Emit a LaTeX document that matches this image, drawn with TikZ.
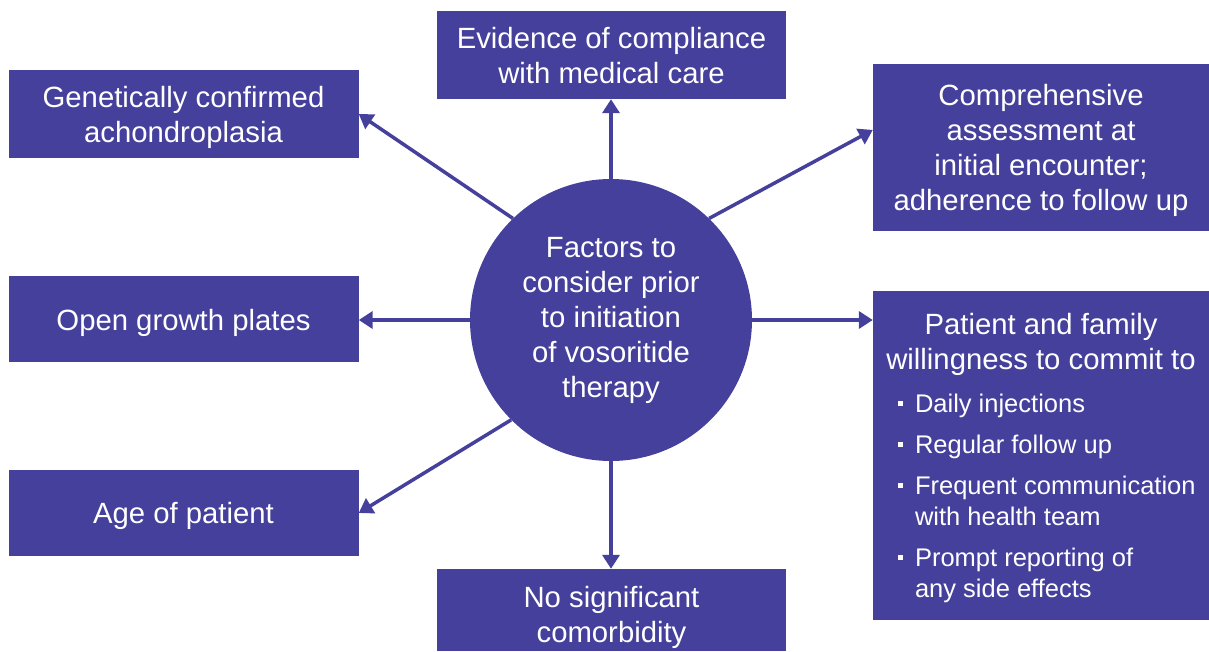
\documentclass[tikz,border=0pt]{standalone}
\usepackage{fontspec}
\setmainfont{Liberation Sans}
\usetikzlibrary{arrows.meta,calc}
\definecolor{navy}{RGB}{69,64,155}
\tikzset{
  box/.style={fill=navy, draw=none, text=white, align=center, inner sep=0pt,
    font=\fontsize{29.3}{35}\selectfont},
  hub/.style={circle, fill=navy, draw=none, text=white, align=center, inner sep=0pt,
    minimum size=282pt, font=\fontsize{29.3}{35}\selectfont},
  link/.style={draw=navy, line width=3.5pt, -{Triangle[length=14pt,width=17pt]}}
}
\newcommand{\sqbullet}{\noindent\llap{\raisebox{6.5pt}{\rule{5pt}{5pt}}\hspace{12pt}}}
\newcommand{\lowered}[2]{\raisebox{-#1}[\height][\depth]{\parbox{330pt}{\centering #2}}}
\begin{document}
\begin{tikzpicture}[x=1pt,y=-1pt]
\useasboundingbox (0,0) rectangle (1209,651);
\node[hub] (c) at (611,320) {Factors to\\consider prior\\to initiation\\of vosoritide\\therapy};
\node[box, minimum width=349pt, minimum height=88pt] (evid) at (611.5,55) {\lowered{1pt}{Evidence of compliance\\with medical care}};
\node[box, minimum width=350pt, minimum height=88pt] (gen) at (183.5,114) {\lowered{3pt}{Genetically confirmed\\achondroplasia}};
\node[box, minimum width=336pt, minimum height=167pt] (comp) at (1041,147.5) {\lowered{3pt}{Comprehensive\\assessment at\\initial encounter;\\adherence to follow up}};
\node[box, minimum width=350pt, minimum height=86pt] (open) at (183.5,319) {\lowered{4pt}{Open growth plates}};
\node[box, minimum width=350pt, minimum height=86pt] (age) at (183.5,513) {\lowered{3pt}{Age of patient}};
\node[box, minimum width=349pt, minimum height=82pt] (nosig) at (611.5,610) {\lowered{7pt}{No significant\\comorbidity}};
\node[box, minimum width=336pt, minimum height=329pt, align=left] (pat) at (1041,455.5) {%
\begin{minipage}{336pt}
\vspace*{6pt}
{\leftskip=14pt\centering Patient and family\\willingness to commit to\par}
\vspace{2pt}
{\raggedright\leftskip=42pt\parskip=10pt\fontsize{25.5}{31}\selectfont
\sqbullet Daily injections\par
\sqbullet Regular follow up\par
\sqbullet Frequent communication\\with health team\par
\sqbullet Prompt reporting of\\any side effects\par}
\end{minipage}};
\coordinate (compin) at ($(comp.north west)!0.395!(comp.south west)$);
\draw[link] (c.north) -- (c.north |- evid.south);
\draw[link] (c.south) -- (c.south |- nosig.north);
\draw[link] (c.west) -- (c.west -| open.east);
\draw[link] (c.east) -- (c.east -| pat.west);
\draw[link] (c.134) -- (gen.east);
\draw[link] (c.225) -- (age.east);
\draw[link] (c.46) -- (compin);
\end{tikzpicture}
\end{document}
